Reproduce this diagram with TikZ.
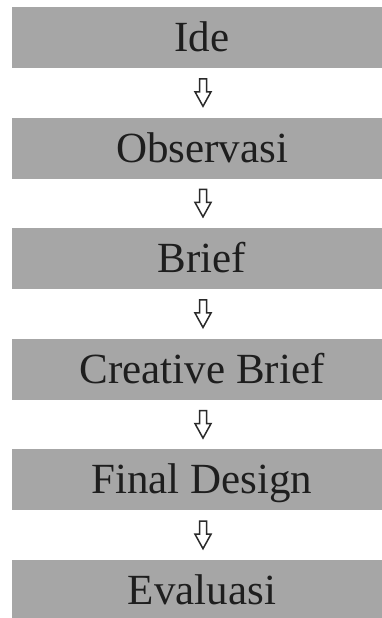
\documentclass[tikz,border=0pt]{standalone}
\usepackage{fontspec}
\setmainfont{Liberation Serif}
\usetikzlibrary{calc}
\definecolor{bargray}{HTML}{A6A6A6}
\definecolor{textdark}{HTML}{1E1E1E}
\definecolor{arrowdark}{HTML}{2A2A2A}
\begin{document}
\begin{tikzpicture}[x=1pt,y=1pt,
  bar/.style={fill=bargray, draw=none, minimum width=380pt, minimum height=61pt,
    inner sep=0pt, text height=28pt, text depth=0pt,
    font=\fontsize{43}{43}\selectfont, text=textdark},
  flowarrow/.style={draw=arrowdark, line width=1.5pt, fill=white, line join=miter}]
\useasboundingbox (0,0) rectangle (382,618);
\fill[white] (0,0) rectangle (382,618);
\begin{scope}
\clip (0,0) rectangle (382,618);
\node[bar] (b1) at (202,580.5) {Ide};
\node[bar] (b2) at (202,469.9) {Observasi};
\node[bar] (b3) at (202,359.3) {Brief};
\node[bar] (b4) at (202,248.7) {Creative Brief};
\node[bar] (b5) at (202,138.1) {Final Design};
\node[bar] (b6) at (202,27.5) {Evaluasi};
\foreach \a/\b in {b1/b2,b2/b3,b3/b4,b4/b5,b5/b6}{
  \coordinate (m) at ($(\a.south)!0.5!(\b.north)+(1,0)$);
  \draw[flowarrow, shift={(m)}] (-3.5,14) -- (3.5,14) -- (3.5,1) -- (8,1)
    -- (0,-13.5) -- (-8,1) -- (-3.5,1) -- cycle;
}
\end{scope}
\end{tikzpicture}
\end{document}
